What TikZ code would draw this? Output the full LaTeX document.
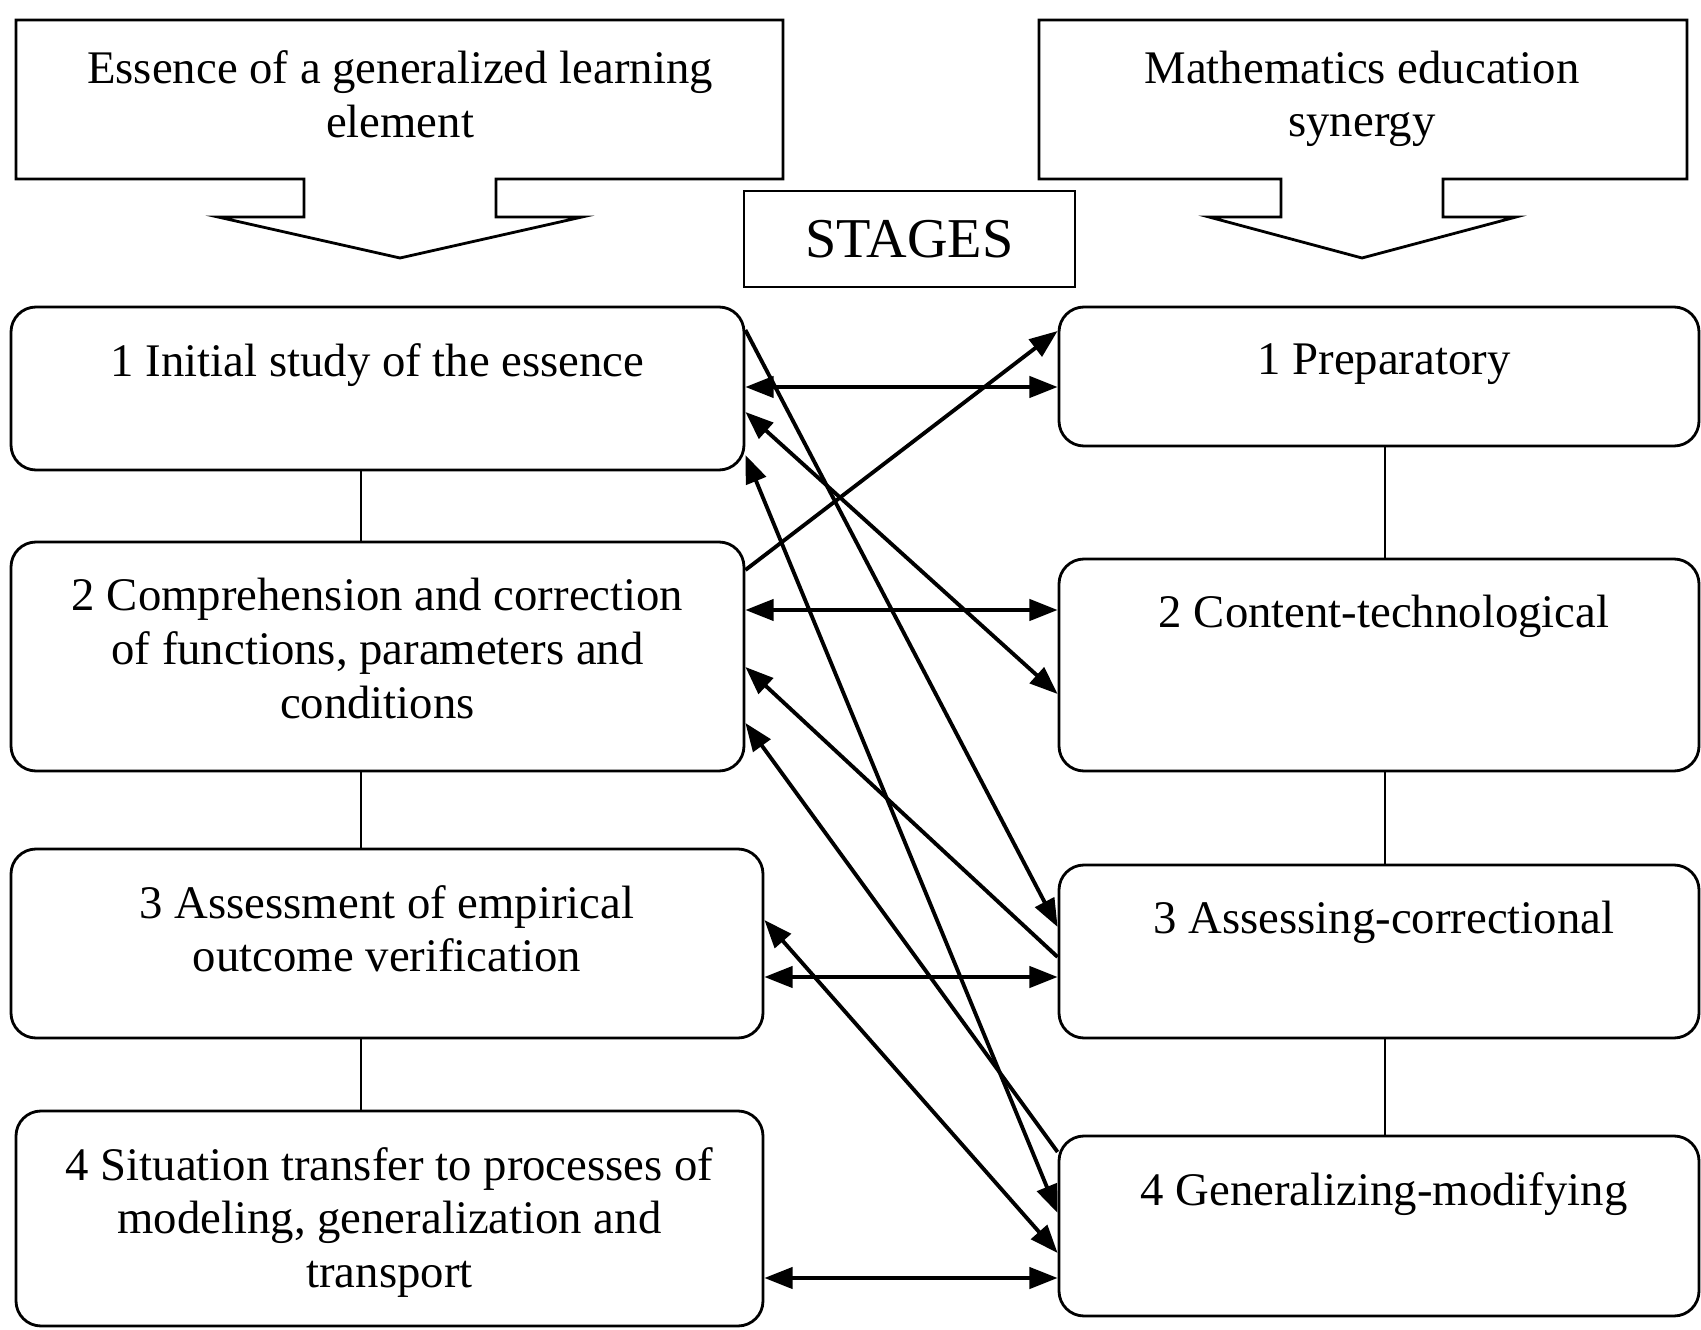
\documentclass[tikz,border=0pt]{standalone}
\usepackage{fontspec}
\setmainfont{Liberation Serif}
\usetikzlibrary{arrows.meta}
\usetikzlibrary{fit}

\begin{document}
\begin{tikzpicture}[x=0.1mm, y=-0.1mm,
  every node/.style={font=\fontsize{13.3pt}{15.3pt}\selectfont},
  stagebox/.style={draw, line width=0.8pt, rounded corners=2.5mm, inner sep=0pt},
  stagetext/.style={anchor=north, align=center, inner sep=0pt, yshift=-3.7mm},
  link/.style={line width=1.1pt, >={Triangle[length=8pt,width=6pt]}}]
  \useasboundingbox (0,0) rectangle (1701,1330);

  % header callouts
  \draw[line width=0.8pt] (16,20) -- (783,20) -- (783,179) -- (496,179) -- (496,217)
    -- (582,217) -- (400,258) -- (218,217) -- (304,217) -- (304,179) -- (16,179) -- cycle;
  \draw[line width=0.8pt] (1039,20) -- (1687,20) -- (1687,179) -- (1443,179) -- (1443,217)
    -- (1516,217) -- (1362,258) -- (1209,217) -- (1281,217) -- (1281,179) -- (1039,179) -- cycle;
  \node[anchor=north, align=center, inner sep=0pt] (Essence) at (400,50)
    {Essence of a generalized learning\\element};
  \node[anchor=north, align=center, inner sep=0pt] (Synergy) at (1362,50)
    {Mathematics education\\synergy};
  \node[draw, line width=0.8pt, minimum width=33.1mm, minimum height=9.6mm,
    font=\fontsize{16pt}{19pt}\selectfont] (Stages) at (909.5,239) {STAGES};

  % left column
  \node[stagebox, fit={(11,307) (744,470)}] (LOne) {};
  \node[stagebox, fit={(11,542) (744,771)}] (LTwo) {};
  \node[stagebox, fit={(11,849) (763,1038)}] (LThree) {};
  \node[stagebox, fit={(16,1111) (763,1326)}] (LFour) {};
  \node[stagetext] (LOneText) at (LOne.north) {1 Initial study of the essence};
  \node[stagetext] (LTwoText) at (LTwo.north)
    {2 Comprehension and correction\\of functions, parameters and\\conditions};
  \node[stagetext] (LThreeText) at (LThree.north)
    {3 Assessment of empirical\\outcome verification};
  \node[stagetext] (LFourText) at (LFour.north)
    {4 Situation transfer to processes of\\modeling, generalization and\\transport};

  % right column
  \node[stagebox, fit={(1059,307) (1699,446)}] (ROne) {};
  \node[stagebox, fit={(1059,559) (1699,771)}] (RTwo) {};
  \node[stagebox, fit={(1059,865) (1699,1038)}] (RThree) {};
  \node[stagebox, fit={(1059,1136) (1699,1316)}] (RFour) {};
  \node[stagetext] (ROneText) at ([xshift=0.5mm]ROne.north) {1 Preparatory};
  \node[stagetext] (RTwoText) at ([xshift=0.5mm]RTwo.north) {2 Content-technological};
  \node[stagetext] (RThreeText) at ([xshift=0.5mm]RThree.north) {3 Assessing-correctional};
  \node[stagetext] (RFourText) at ([xshift=0.5mm]RFour.north) {4 Generalizing-modifying};

  \coordinate (LeftLine) at (361,0);
  \coordinate (RightLine) at (1385,0);
  \foreach \a/\b in {LOne/LTwo, LTwo/LThree, LThree/LFour}{%
    \draw[line width=0.8pt] (\a.south -| LeftLine) -- (\b.north -| LeftLine);
  }
  \foreach \a/\b in {ROne/RTwo, RTwo/RThree, RThree/RFour}{%
    \draw[line width=0.8pt] (\a.south -| RightLine) -- (\b.north -| RightLine);
  }

  % links between the columns
  \foreach \a/\b/\y in {LOne/ROne/387, LTwo/RTwo/610, LThree/RThree/977, LFour/RFour/1278}{%
    \draw[link, <->] (\a.east |- 0,\y) -- (\b.west |- 0,\y);
  }
  \draw[link, ->] (LOne.east |- 0,330) -- (RThree.west |- 0,927);
  \draw[link, <->] (LOne.east |- 0,412) -- (RTwo.west |- 0,694);
  \draw[link, <->] (LOne.east |- 0,455) -- (RFour.west |- 0,1213);
  \draw[link, ->] (LTwo.east |- 0,570) -- (ROne.west |- 0,331);
  \draw[link, ->] (RThree.west |- 0,957) -- (LTwo.east |- 0,667);
  \draw[link, ->] (RFour.west |- 0,1152) -- (LTwo.east |- 0,723);
  \draw[link, <->] (LThree.east |- 0,920) -- (RFour.west |- 0,1253);
\end{tikzpicture}
\end{document}
